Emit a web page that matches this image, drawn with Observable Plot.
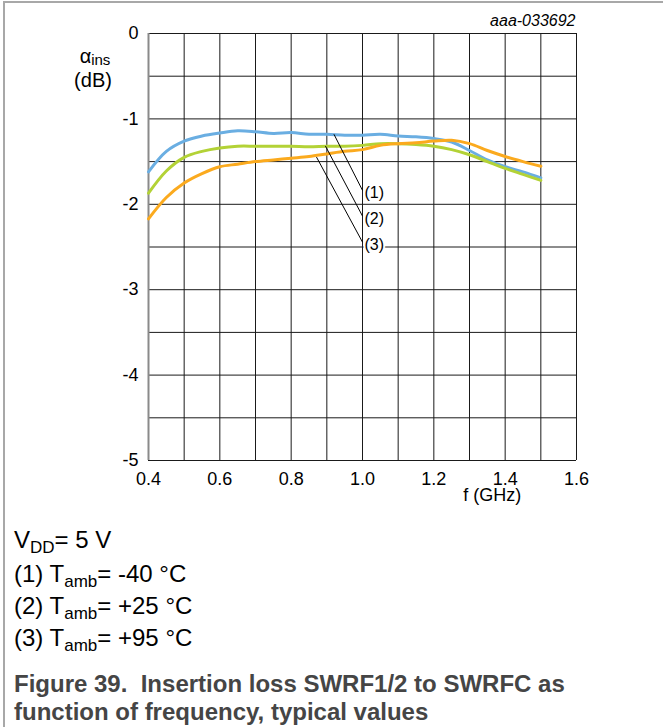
<!DOCTYPE html>
<html><head><meta charset="utf-8">
<script src="https://cdn.jsdelivr.net/npm/d3@7"></script>
<script src="https://cdn.jsdelivr.net/npm/@observablehq/plot@0.6"></script>
<style>
body{margin:0;background:#fff;font-family:"Liberation Sans",Arial,sans-serif;}
#page{position:relative;width:663px;height:727px;overflow:hidden;background:#fff;}
#chart{position:absolute;left:0;top:0;}
#overlay{position:absolute;left:0;top:0;}
.bar{position:absolute;background:#a8a8a8;}
</style></head><body>
<div id="page">
  <div id="chart"></div>
  <svg id="overlay" width="663" height="727"></svg>
  <div class="bar" style="left:3px;top:1px;width:660px;height:2px"></div>
  <div class="bar" style="left:3px;top:1px;width:2px;height:726px"></div>
</div>
<script>
// ---- data ----
const freq    = [0.40,0.45,0.50,0.55,0.60,0.65,0.70,0.75,0.80,0.85,0.90,0.95,1.00,1.05,1.10,1.15,1.20,1.25,1.30,1.35,1.40,1.45,1.50];
const lossM40 = [-1.62,-1.38,-1.26,-1.20,-1.165,-1.14,-1.15,-1.17,-1.16,-1.18,-1.18,-1.19,-1.19,-1.18,-1.20,-1.21,-1.23,-1.27,-1.37,-1.48,-1.56,-1.62,-1.69];
const lossP25 = [-1.87,-1.61,-1.45,-1.38,-1.34,-1.32,-1.32,-1.32,-1.32,-1.325,-1.32,-1.32,-1.31,-1.29,-1.29,-1.30,-1.32,-1.36,-1.42,-1.50,-1.58,-1.65,-1.72];
const lossP95 = [-2.17,-1.92,-1.75,-1.64,-1.56,-1.53,-1.50,-1.48,-1.46,-1.44,-1.41,-1.38,-1.36,-1.31,-1.29,-1.28,-1.26,-1.25,-1.29,-1.37,-1.44,-1.50,-1.555];
const seriesNames  = ["(1)","(2)","(3)"];
const seriesColors = ["#6aaee2","#b3d236","#fbaa1e"];
const xTicks = [0.4,0.6,0.8,1.0,1.2,1.4,1.6];
const yTicks = [0,-1,-2,-3,-4,-5];
// leader-line annotation anchors (curve point -> label)
const leaderX1 = [0.92,0.896,0.871];
const leaderY1 = [-1.18,-1.317,-1.447];
const leaderX2 = [1.0,1.0,1.0];
const leaderY2 = [-1.837,-2.138,-2.443];
const labelY   = [-1.87,-2.17,-2.47];

const rows = [];
[lossM40,lossP25,lossP95].forEach((arr,k)=>arr.forEach((v,i)=>rows.push({f:freq[i],v,s:seriesNames[k]})));
const leaders = seriesNames.map((n,i)=>({n,x1:leaderX1[i],y1:leaderY1[i],x2:leaderX2[i],y2:leaderY2[i],ly:labelY[i]}));
const gridX = d3.range(13).map(i=>+(0.4+i*0.1).toFixed(2));
const gridY = d3.range(11).map(i=>-i*0.5);

const chart = Plot.plot({
  width:663, height:510,
  marginLeft:148, marginRight:87, marginTop:33, marginBottom:50,
  style:{background:"transparent", fontFamily:"'Liberation Sans', Arial, sans-serif", fontSize:"18px", color:"#000"},
  x:{domain:[0.4,1.6], ticks:xTicks, tickFormat:d=>d.toFixed(1), tickSize:0, tickPadding:12, label:null},
  y:{domain:[-5,0], ticks:yTicks, tickFormat:d=>String(d), tickSize:0, tickPadding:10, label:null},
  color:{domain:seriesNames, range:seriesColors},
  marks:[
    Plot.ruleX(gridX,{stroke:"#1a1a1a",strokeWidth:1}),
    Plot.ruleY(gridY,{stroke:"#1a1a1a",strokeWidth:1}),
    Plot.ruleX([0.4],{stroke:"#8a8a8a",strokeWidth:2}),
    Plot.line(rows,{x:"f",y:"v",stroke:"s",z:"s",curve:"catmull-rom",strokeWidth:3}),
    Plot.link(leaders,{x1:"x1",y1:"y1",x2:"x2",y2:"y2",stroke:"#000",strokeWidth:1}),
    Plot.text(leaders,{x:"x2",y:"ly",text:"n",textAnchor:"start",dx:2,fontSize:16,fill:"#000",stroke:"white",strokeWidth:4}),
    Plot.text(["f (GHz)"],{x:1.364,y:-5,dy:28,lineAnchor:"top",fontSize:18,fill:"#000"})
  ]
});
document.getElementById("chart").appendChild(chart);

// ---- text overlay ----
const svg = d3.select("#overlay").style("font-family","'Liberation Sans', Arial, sans-serif");
svg.append("text").attr("x",575.5).attr("y",26).attr("text-anchor","end")
  .style("font-style","italic").style("font-size","16px").text("aaa-033692");
const t1 = svg.append("text").attr("x",95).attr("y",63).attr("text-anchor","middle").style("font-size","20px");
t1.append("tspan").text("α");
t1.append("tspan").attr("dy",2).style("font-size","15px").text("ins");
svg.append("text").attr("x",93).attr("y",87).attr("text-anchor","middle").style("font-size","20px").text("(dB)");

function noteLine(y, parts){
  const t = svg.append("text").attr("x",14).attr("y",y).style("font-size","24px").attr("fill","#000");
  parts.forEach(p=>{
    if (p.sub) { t.append("tspan").attr("dy",5).style("font-size","17px").text(p.sub); }
    else { t.append("tspan").attr("dy", p.after ? -5 : 0).text(p.t); }
  });
}
noteLine(548,[{t:"V"},{sub:"DD"},{t:"= 5 V",after:true}]);
noteLine(582,[{t:"(1) T"},{sub:"amb"},{t:"= -40 °C",after:true}]);
noteLine(613.5,[{t:"(2) T"},{sub:"amb"},{t:"= +25 °C",after:true}]);
noteLine(645.5,[{t:"(3) T"},{sub:"amb"},{t:"= +95 °C",after:true}]);

const cap = ["Figure 39.  Insertion loss SWRF1/2 to SWRFC as","function of frequency, typical values"];
cap.forEach((s,i)=>svg.append("text").attr("x",14).attr("y",691.5+i*28)
  .style("font-size","24px").style("font-weight","bold").style("white-space","pre")
  .attr("fill","#454545").text(s));
</script>
</body></html>
